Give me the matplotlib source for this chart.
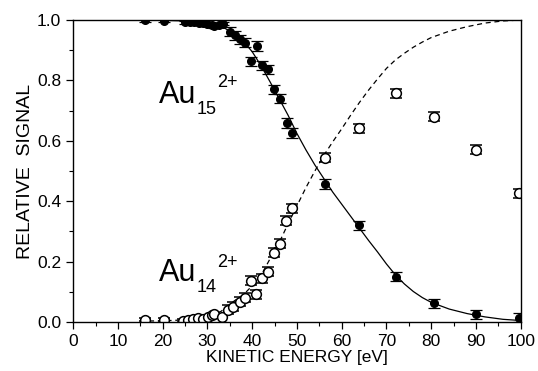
import numpy as np
import matplotlib.pyplot as plt

plt.rcParams['font.family'] = ['Liberation Sans', 'DejaVu Sans']

# Au15 2+ (filled dots)
filled_x = [16.1, 20.3, 25.0, 26.0, 27.0, 28.0, 29.0, 30.0, 31.0, 31.5, 32.5, 33.5,
            35.0, 36.2, 37.3, 38.4, 39.7, 41.0, 42.1, 43.6, 44.9, 46.2, 47.7, 49.0,
            56.2, 63.8, 72.1, 80.6, 90.0, 99.6]
filled_y = [1.0, 0.997, 0.993, 0.993, 0.992, 0.99, 0.99, 0.988, 0.985, 0.98, 0.985, 0.987,
            0.961, 0.95, 0.936, 0.925, 0.864, 0.914, 0.85, 0.837, 0.77, 0.74, 0.659, 0.626,
            0.457, 0.321, 0.150, 0.062, 0.026, 0.014]
filled_err = [0.005] * 12 + [0.015] * 18

# Au14 2+ (open circles)
open_x = [16.1, 20.3, 24.6, 25.7, 26.8, 27.9, 29.0, 30.1, 31.0, 31.5, 33.3, 34.7,
          35.8, 37.3, 38.4, 39.7, 40.8, 42.1, 43.5, 44.9, 46.2, 47.5, 49.0,
          56.2, 63.8, 72.1, 80.6, 90.0, 99.6]
open_y = [0.007, 0.007, 0.005, 0.007, 0.01, 0.012, 0.01, 0.015, 0.022, 0.025, 0.018, 0.04,
          0.05, 0.067, 0.08, 0.136, 0.092, 0.145, 0.167, 0.23, 0.26, 0.335, 0.376,
          0.544, 0.641, 0.757, 0.68, 0.57, 0.426]
open_err = [0.005] * 11 + [0.015] * 18

# fit curves
fit_x = [15, 20, 25, 30, 33, 36, 38, 40, 42, 44, 46, 48, 50, 52, 54, 56, 58, 60, 62, 64,
         66, 68, 70, 72, 74, 76, 78, 80, 84, 88, 92, 96, 100]
solid_y = [1.0, 0.999, 0.997, 0.99, 0.98, 0.955, 0.93, 0.895, 0.848, 0.795, 0.74, 0.685,
           0.624, 0.57, 0.52, 0.475, 0.43, 0.39, 0.35, 0.31, 0.27, 0.232, 0.192, 0.156,
           0.126, 0.101, 0.081, 0.065, 0.043, 0.028, 0.017, 0.009, 0.005]
dash_y = [0.003, 0.004, 0.007, 0.018, 0.035, 0.07, 0.09, 0.12, 0.155, 0.21, 0.262, 0.325,
          0.385, 0.445, 0.5, 0.552, 0.597, 0.64, 0.685, 0.728, 0.768, 0.805, 0.84, 0.868,
          0.89, 0.91, 0.927, 0.942, 0.963, 0.978, 0.99, 0.997, 1.0]

fig = plt.figure(figsize=(5.38, 3.71), dpi=100)
ax = fig.add_axes([0.136, 0.132, 0.832, 0.814])

ax.plot(fit_x, solid_y, 'k-', lw=0.9)
ax.plot(fit_x, dash_y, 'k--', lw=0.9, dashes=(4, 3))

ax.errorbar(filled_x, filled_y, yerr=filled_err, fmt='o', ms=5.5, mfc='k', mec='k',
            ecolor='k', elinewidth=0.8, capsize=4, capthick=0.9)
ax.errorbar(open_x, open_y, yerr=open_err, fmt='o', ms=7, mfc='white', mec='k', mew=1.1,
            ecolor='k', elinewidth=0.8, capsize=4, capthick=0.9)

ax.text(19.2, 0.725, 'Au', fontsize=22)
ax.text(27.6, 0.688, '15', fontsize=13)
ax.text(32.1, 0.778, '2+', fontsize=13)
ax.text(19.2, 0.136, 'Au', fontsize=22)
ax.text(27.6, 0.100, '14', fontsize=13)
ax.text(32.1, 0.182, '2+', fontsize=13)

ax.set_xlim(0, 100)
ax.set_ylim(0, 1.0)
ax.set_xticks(np.arange(0, 101, 10))
ax.set_xticks(np.arange(0, 101, 5), minor=True)
ax.set_yticks(np.arange(0, 1.01, 0.2))
ax.set_yticks(np.arange(0, 1.01, 0.1), minor=True)
ax.set_yticklabels(['%.1f' % v for v in np.arange(0, 1.01, 0.2)])
ax.tick_params(which='major', direction='out', length=5, width=0.9, labelsize=12.5)
ax.tick_params(which='minor', direction='out', length=3, width=0.8)
ax.set_xlabel('KINETIC ENERGY [eV]', fontsize=12.5, labelpad=1)
ax.set_ylabel('RELATIVE  SIGNAL', fontsize=14, labelpad=2)
for s in ax.spines.values():
    s.set_linewidth(1.0)

fig.savefig('out.png', dpi=100)
